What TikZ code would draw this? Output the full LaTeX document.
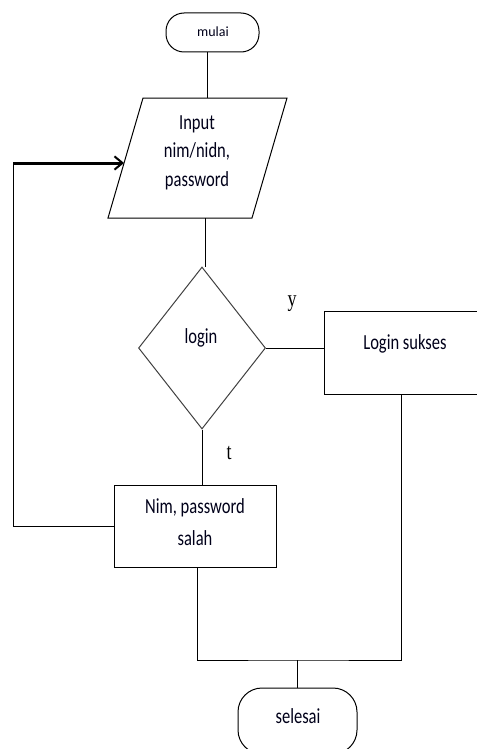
\documentclass[tikz,border=0pt]{standalone}
\usepackage{fontspec}
\setmainfont{Carlito}
\newfontfamily\serifyt{Liberation Serif}
\usetikzlibrary{shapes.geometric,arrows.meta,calc}
\newcommand\vtext[2]{\scalebox{1}[1.3]{\fontsize{12.4}{#1}\selectfont\begin{tabular}[t]{@{}c@{}}#2\end{tabular}}}
\begin{document}
\begin{tikzpicture}[x=0.75pt,y=-0.75pt,
  line/.style={draw=black,line width=0.75pt},
  shp/.style={draw=black,line width=0.75pt,inner sep=0pt,fill=none},
  size/.style 2 args={minimum width={#1*0.75pt},minimum height={#2*0.75pt}},
  lbl/.style={anchor=base,inner sep=0pt,text=black!90!blue},
  yt/.style={anchor=base,inner sep=0pt,font=\serifyt\fontsize{13.5}{16}\selectfont,yscale=1.3,transform shape}]
\useasboundingbox (0,0) rectangle (477,749);
\clip (0,0) rectangle (477,749);
% shapes
\node[shp,rectangle,rounded corners=13.5pt,size={93}{39}] (mulai) at (212.5,32.5) {};
\coordinate (pBL) at (108,218);
\coordinate (pBR) at (252,218);
\coordinate (pTR) at (287,98);
\coordinate (pTL) at (143,98);
\draw[line] (pBL) -- (pBR) -- (pTR) -- (pTL) -- cycle;
\coordinate (pTop) at (207,98);
\coordinate (pBot) at (205,218);
\coordinate (pL) at (124,163);
\node[shp,draw=black!75,diamond,size={127}{162}] (dia) at (202,348) {};
\node[shp,rectangle,size={166}{83}] (ok) at (407,352.5) {};
\node[shp,rectangle,size={162}{82}] (nim) at (195,526) {};
\node[shp,rectangle,rounded corners=18pt,size={119}{66}] (sel) at (297.5,721) {};
% texts
\node[lbl,font=\fontsize{10.5}{12}\selectfont] (tmulai) at (213,37) {mulai};
\node[lbl] (tinput) at (197,129) {\vtext{16.7pt}{Input\\nim/nidn,\\password}};
\node[lbl] (tlogin) at (201,343) {\vtext{15pt}{login}};
\node[lbl] (tok) at (405,349) {\vtext{15pt}{Login sukses}};
\node[lbl] (tnim) at (195,513) {\vtext{18.5pt}{Nim, password\\salah}};
\node[lbl] (tsel) at (298,723) {\vtext{15pt}{selesai}};
\node[yt] (ty) at (292,306) {y};
\node[yt] (tt) at (229,459) {t};
% connectors
\draw[line] (pTop |- mulai.south) -- (pTop);
\draw[line] (pBot) -- (pBot |- dia.north);
\draw[line] (dia.east) -- (dia.east -| ok.west);
\draw[line] (dia.south) -- (dia.south |- nim.north);
\coordinate (loopT) at (13,163);
\draw[line] (nim.west) -| (loopT);
\draw[line width=2.25pt,-{Straight Barb[length=6pt,width=10pt,line width=1.5pt]}] (loopT) -- (pL);
\coordinate (okB) at ($(ok.south west)+(78,0)$);
\coordinate (nimB) at ($(nim.south)+(2,0)$);
\coordinate (j) at (297.5,660);
\draw[line] (nimB) |- (j) -| (okB);
\draw[line] (j) -- (sel.north);
\end{tikzpicture}
\end{document}
